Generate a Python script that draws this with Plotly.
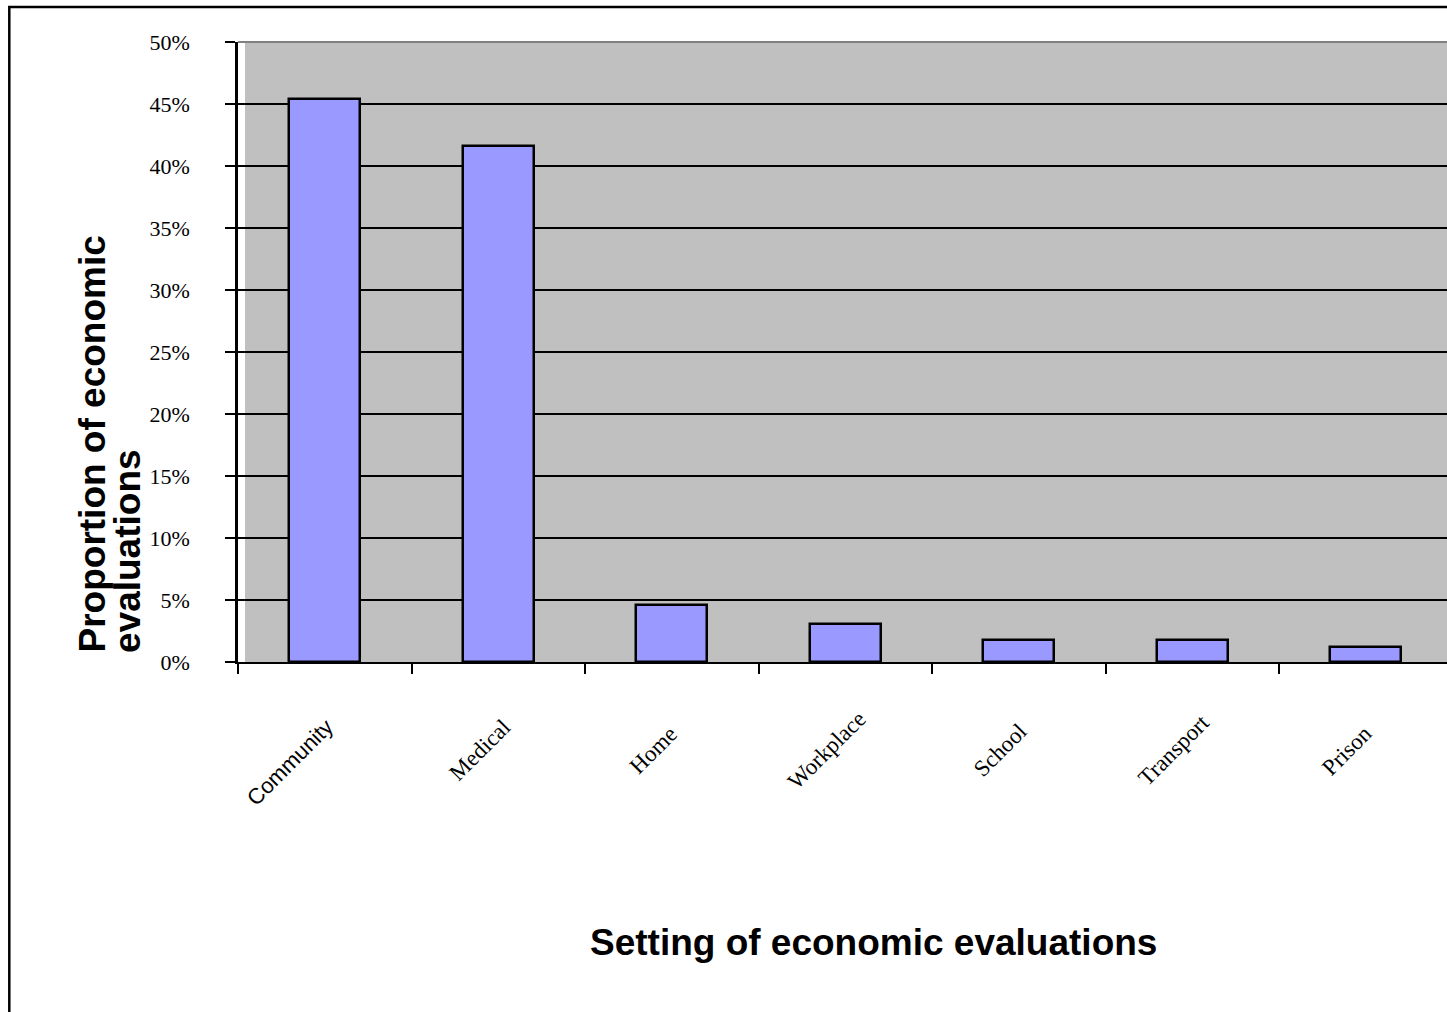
import plotly.graph_objects as go

# Share of economic evaluations by setting (percent)
settings = ["Community", "Medical", "Home", "Workplace", "School", "Transport", "Prison"]
shares = [45.4, 41.6, 4.6, 3.1, 1.8, 1.8, 1.2]
y_ticks = [0, 5, 10, 15, 20, 25, 30, 35, 40, 45, 50]
y_tick_labels = [f"{v}%" for v in y_ticks]

W, H = 1447, 1012
L, R, T, B = 238, 0, 42, 350
PW, PH = W - L - R, H - T - B


def px_x(px):
    return (px - L) / PW


def px_y(py):
    return (H - B - py) / PH


SERIF = "Times New Roman, Liberation Serif, serif"
SANS = "Arial, Liberation Sans, sans-serif"

fig = go.Figure(
    go.Bar(
        x=settings,
        y=shares,
        width=0.41,
        marker=dict(color="#9999ff", line=dict(color="black", width=2.5)),
        hoverinfo="skip",
    )
)

cat_w = 173.5
fig.update_xaxes(
    type="category",
    range=[-0.5, -0.5 + PW / cat_w],
    showline=True, linecolor="black", linewidth=2,
    ticks="outside", tickson="boundaries", ticklen=10, tickwidth=2, tickcolor="black",
    showgrid=False, showticklabels=False, zeroline=False,
)
fig.update_yaxes(
    range=[0, 50], tickmode="array", tickvals=y_ticks, ticktext=y_tick_labels,
    showline=True, linecolor="black", linewidth=2.5,
    ticks="outside", ticklen=10, tickwidth=2, tickcolor="black",
    showgrid=True, gridcolor="black", gridwidth=2, zeroline=False,
    tickfont=dict(family=SERIF, size=22, color="black"),
    ticklabelstandoff=31,
)

shapes = [
    # white strip between the value axis and the shaded plot area
    dict(type="rect", xref="paper", yref="paper", x0=0, x1=px_x(245), y0=0, y1=1,
         fillcolor="white", line=dict(width=0), layer="below"),
    # plot area top border
    dict(type="line", xref="paper", yref="paper", x0=px_x(238), x1=px_x(1460),
         y0=1, y1=1, line=dict(color="#808080", width=2), layer="above"),
    # chart frame
    dict(type="rect", xref="paper", yref="paper", x0=px_x(9.3), x1=px_x(1470),
         y0=px_y(1030), y1=px_y(7), line=dict(color="black", width=2.5),
         fillcolor="rgba(0,0,0,0)", layer="above"),
]

annotations = []
for name in settings:
    sans = name == "Community"
    annotations.append(dict(
        x=name, xref="x", y=px_y(762 if sans else 750), yref="paper",
        text=name, showarrow=False, textangle=-45,
        xanchor="center", yanchor="middle", xshift=-35 if sans else -19,
        font=dict(family=SANS if sans else SERIF, size=22 if sans else 23, color="black"),
    ))

title_font = dict(family=SANS, size=37, color="black")
annotations.append(dict(
    x=px_x(873), y=px_y(942), xref="paper", yref="paper",
    text="<b>Setting of economic evaluations</b>", showarrow=False,
    xanchor="center", yanchor="middle", font=title_font,
))
annotations.append(dict(
    x=px_x(92), y=px_y(655), xref="paper", yref="paper",
    text="<b>Proportion of economic</b>", showarrow=False, textangle=-90,
    xanchor="center", yanchor="bottom", font=title_font,
))
annotations.append(dict(
    x=px_x(127), y=px_y(655), xref="paper", yref="paper",
    text="<b>evaluations</b>", showarrow=False, textangle=-90,
    xanchor="center", yanchor="bottom", font=title_font,
))

fig.update_layout(
    width=W, height=H,
    margin=dict(l=L, r=R, t=T, b=B, pad=0),
    paper_bgcolor="white", plot_bgcolor="#c0c0c0",
    showlegend=False, bargap=0,
    shapes=shapes, annotations=annotations,
)

fig.write_html("out.html", config={"displayModeBar": False})
